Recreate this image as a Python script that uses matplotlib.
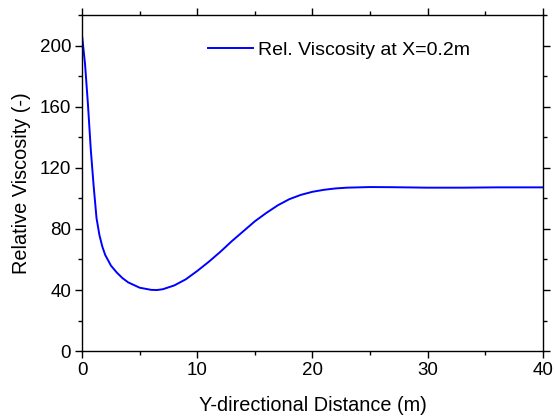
import matplotlib
matplotlib.use("Agg")
import matplotlib.pyplot as plt
from matplotlib.ticker import MultipleLocator

plt.rcParams['font.family'] = ['Liberation Sans', 'DejaVu Sans']

# curve
dist = [0, 0.25, 0.5, 0.75, 1.0, 1.25, 1.5, 1.75, 2.0, 2.5, 3.0, 3.5, 4.0, 5.0, 6.0, 6.5, 7.0,
        8.0, 9.0, 10.0, 11.0, 12.0, 13.0, 14.0, 15.0, 16.0, 17.0, 18.0, 19.0, 20.0,
        21.0, 22.0, 23.0, 25.0, 27.0, 30.0, 33.0, 36.0, 40.0]
visc = [206, 188, 162, 132, 108, 87, 76, 68.5, 63, 56, 51.5, 47.8, 45, 41.5, 40.1, 40, 40.5,
        43, 47, 52.5, 58.5, 65, 72, 78.5, 85, 90.5, 95.5, 99.5, 102.3, 104.3,
        105.6, 106.5, 107, 107.4, 107.3, 107, 107, 107.2, 107.2]

fig = plt.figure(figsize=(5.55, 4.18), dpi=100)
ax = fig.add_axes([0.148, 0.160, 0.830, 0.804])
ax.plot(dist, visc, color='#0000ff', lw=1.4, label='Rel. Viscosity at X=0.2m')

ax.set_xlim(0, 40)
ax.set_ylim(0, 220)
ax.xaxis.set_major_locator(MultipleLocator(10))
ax.xaxis.set_minor_locator(MultipleLocator(5))
ax.yaxis.set_major_locator(MultipleLocator(40))
ax.yaxis.set_minor_locator(MultipleLocator(20))
ax.tick_params(which='both', direction='out', top=True, right=True, width=1,
               labeltop=False, labelright=False, labelsize=13.5)
ax.tick_params(which='major', length=5, pad=3)
ax.tick_params(which='minor', length=3)
for s in ax.spines.values():
    s.set_linewidth(1)

ax.set_xlabel('Y-directional Distance (m)', fontsize=14.3, labelpad=12)
ax.set_ylabel('Relative Viscosity (-)', fontsize=14.3, labelpad=6)
ax.legend(loc='center left', bbox_to_anchor=(0.273, 0.896), frameon=False,
          fontsize=14, handlelength=2.3, handletextpad=0.3,
          borderpad=0, borderaxespad=0)

fig.savefig('out.png', dpi=100)
